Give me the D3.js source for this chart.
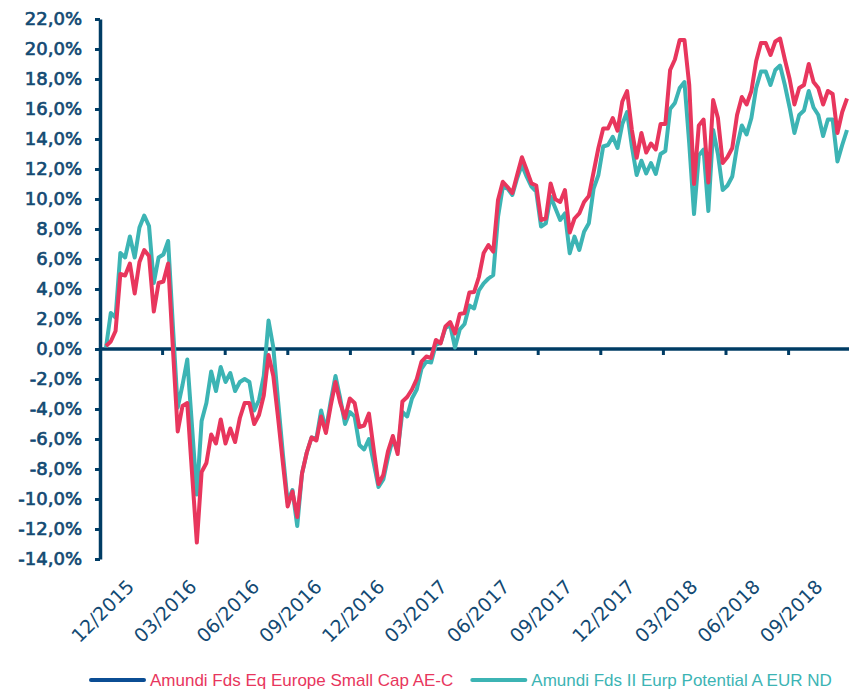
<!DOCTYPE html>
<html><head><meta charset="utf-8">
<script src="https://cdn.jsdelivr.net/npm/d3@7"></script>
<style>body{margin:0;background:#fff} svg{display:block}</style>
</head><body><svg id="c" width="849" height="690"></svg>
<script>
const quarterLabels = ["12/2015","03/2016","06/2016","09/2016","12/2016","03/2017","06/2017","09/2017","12/2017","03/2018","06/2018","09/2018"];
const seriesNames = ["Amundi Fds Eq Europe Small Cap AE-C","Amundi Fds II Eurp Potential A EUR ND"];
const yTickValues = [-14,-12,-10,-8,-6,-4,-2,0,2,4,6,8,10,12,14,16,18,20,22];

const smallCap = [0.2,0.5,1.2,5.0,4.9,5.7,3.7,5.8,6.6,6.2,2.5,4.4,4.5,5.7,0.0,-5.5,-3.8,-3.6,-8.3,-12.9,
-8.2,-7.6,-5.7,-6.3,-4.7,-6.3,-5.3,-6.2,-4.6,-3.6,-3.6,-5.0,-4.4,-3.1,-0.4,-1.8,-4.6,-7.6,-10.5,-9.5,
-11.2,-8.3,-6.9,-5.9,-6.1,-4.5,-5.6,-3.8,-2.2,-3.6,-4.6,-3.3,-3.6,-5.2,-5.1,-4.3,-6.7,-9.0,-8.4,-6.8,
-5.8,-7.0,-3.5,-3.2,-2.7,-2.0,-0.84,-0.5,-0.6,0.6,0.38,1.5,1.8,1.04,2.33,2.4,3.76,3.8,4.8,6.4,
6.93,6.49,9.93,11.15,10.8,10.4,11.6,12.78,11.93,11.04,10.9,8.6,8.7,11.04,9.98,9.8,10.6,7.76,8.7,9.04,
9.8,10.2,11.8,13.4,14.7,14.7,15.4,14.55,16.5,17.2,14.6,12.75,14.4,13.1,13.7,13.3,15.0,15.0,18.6,19.3,
20.6,20.6,17.6,11.0,14.9,15.3,11.1,16.6,15.4,12.4,12.8,13.4,15.6,16.8,16.3,17.2,19.2,20.4,20.4,19.6,
20.5,20.7,19.3,18.0,16.3,17.4,17.6,19.0,17.8,17.4,16.3,17.2,17.0,14.4,15.8,16.7];

const potential = [0.1,2.4,2.1,6.4,6.1,7.5,6.1,8.1,8.9,8.2,4.4,6.1,6.3,7.2,1.5,-3.9,-2.4,-0.7,-5.2,-9.7,
-4.8,-3.6,-1.5,-2.8,-1.2,-2.2,-1.6,-2.8,-2.2,-2.0,-2.2,-4.1,-3.4,-1.8,1.9,0.1,-3.5,-7.0,-10.2,-9.4,
-11.8,-8.3,-6.9,-5.9,-6.0,-4.1,-5.4,-3.5,-1.8,-3.3,-5.0,-4.2,-4.5,-6.4,-6.7,-6.0,-7.6,-9.2,-8.7,-7.2,
-6.0,-6.8,-4.2,-4.5,-3.3,-2.7,-1.3,-0.84,-0.9,0.3,0.4,1.4,1.6,0.1,1.3,1.67,2.9,2.7,3.9,4.38,
4.7,4.93,8.8,10.8,10.7,10.27,11.38,12.27,11.49,10.82,10.49,8.16,8.38,10.16,9.38,8.6,9.04,6.38,7.49,6.6,
7.82,8.38,10.7,11.6,13.5,13.6,14.15,13.4,15.0,15.8,13.5,11.6,12.55,11.7,12.4,11.67,13.0,13.2,16.0,16.4,
17.4,17.8,13.7,9.0,12.9,13.3,9.2,14.6,13.0,10.6,10.9,11.5,13.5,14.9,14.3,15.4,17.4,18.5,18.5,17.6,
18.6,18.9,17.6,16.1,14.4,15.6,15.9,17.2,16.1,15.6,14.2,15.3,15.3,12.5,13.6,14.6];

const colors = {smallCap:"#e8365d", potential:"#3cb4b4", legendLine1:"#0b4d94", axis:"#003c64", text:"#134a73"};

const W = 849, H = 690;
const plotLeft = 100, plotRight = 849, plotTop = 19, plotBottom = 559;

const svg = d3.select("#c");
const y = d3.scaleLinear().domain([-14, 22]).range([plotBottom, plotTop]);
const x = d3.scaleLinear().domain([0, smallCap.length - 1]).range([106, 847]);
const band = d3.scaleBand().domain(quarterLabels).range([plotLeft, plotLeft + 62.6 * quarterLabels.length]);

const loc = d3.formatLocale({decimal: ",", thousands: ".", grouping: [3], currency: ["", "€"], minus: "-"});
const f1 = loc.format(".1f");

svg.append("defs").append("clipPath").attr("id", "clip")
  .append("rect").attr("x", plotLeft).attr("y", 0).attr("width", plotRight - plotLeft).attr("height", H);

// y axis
const yAxis = svg.append("g").attr("transform", `translate(${plotLeft},0)`)
  .call(d3.axisLeft(y).tickValues(yTickValues).tickSize(5).tickSizeOuter(0).tickPadding(13)
    .tickFormat(d => f1(d) + "%"));
yAxis.select(".domain").attr("stroke", colors.axis).attr("stroke-width", 3.5);
yAxis.selectAll(".tick line").attr("stroke", colors.axis).attr("stroke-width", 3);
yAxis.selectAll(".tick text").attr("fill", colors.text)
  .attr("stroke", colors.text).attr("stroke-width", 0.7)
  .style("font-family", "'DejaVu Sans', sans-serif").style("font-weight", 400).style("font-size", "18px");

// x axis (category axis with ticks between categories)
const y0 = y(0);
const xAxis = svg.append("g");
xAxis.append("line").attr("x1", plotLeft).attr("x2", plotRight).attr("y1", y0).attr("y2", y0)
  .attr("stroke", colors.axis).attr("stroke-width", 3.5);
xAxis.selectAll("line.tk").data(quarterLabels.slice(1)).join("line").attr("class", "tk")
  .attr("x1", d => band(d)).attr("x2", d => band(d)).attr("y1", y0).attr("y2", y0 + 6)
  .attr("stroke", colors.axis).attr("stroke-width", 3);
xAxis.selectAll("text").data(quarterLabels).join("text")
  .attr("transform", d => `translate(${band(d) + band.bandwidth() / 2 + 4},588) rotate(-45)`)
  .attr("text-anchor", "end")
  .attr("fill", colors.text)
  .style("font-family", "'DejaVu Sans', sans-serif").style("font-weight", 400).style("font-size", "19px")
  .text(d => d);

// lines
const line = d3.line().x((d, i) => x(i)).y(d => y(d));
const plot = svg.append("g").attr("clip-path", "url(#clip)");
plot.append("path").datum(potential).attr("d", line).attr("fill", "none")
  .attr("stroke", colors.potential).attr("stroke-width", 4).attr("stroke-linejoin", "round");
plot.append("path").datum(smallCap).attr("d", line).attr("fill", "none")
  .attr("stroke", colors.smallCap).attr("stroke-width", 4).attr("stroke-linejoin", "round");

// legend
const legend = svg.append("g").attr("transform", "translate(0,680)");
const items = [
  {name: seriesNames[0], line: colors.legendLine1, text: colors.smallCap},
  {name: seriesNames[1], line: colors.potential, text: colors.potential}
];
let lx = 91;
items.forEach(it => {
  legend.append("line").attr("x1", lx).attr("x2", lx + 53).attr("y1", 0).attr("y2", 0)
    .attr("stroke", it.line).attr("stroke-width", 4).attr("stroke-linecap", "round");
  const t = legend.append("text").attr("x", lx + 59).attr("y", 5.5).attr("fill", it.text)
    .style("font-family", "'Liberation Sans', Arial, sans-serif").style("font-size", "17px")
    .text(it.name);
  lx = lx + 59 + t.node().getComputedTextLength() + 19;
});
</script></body></html>
